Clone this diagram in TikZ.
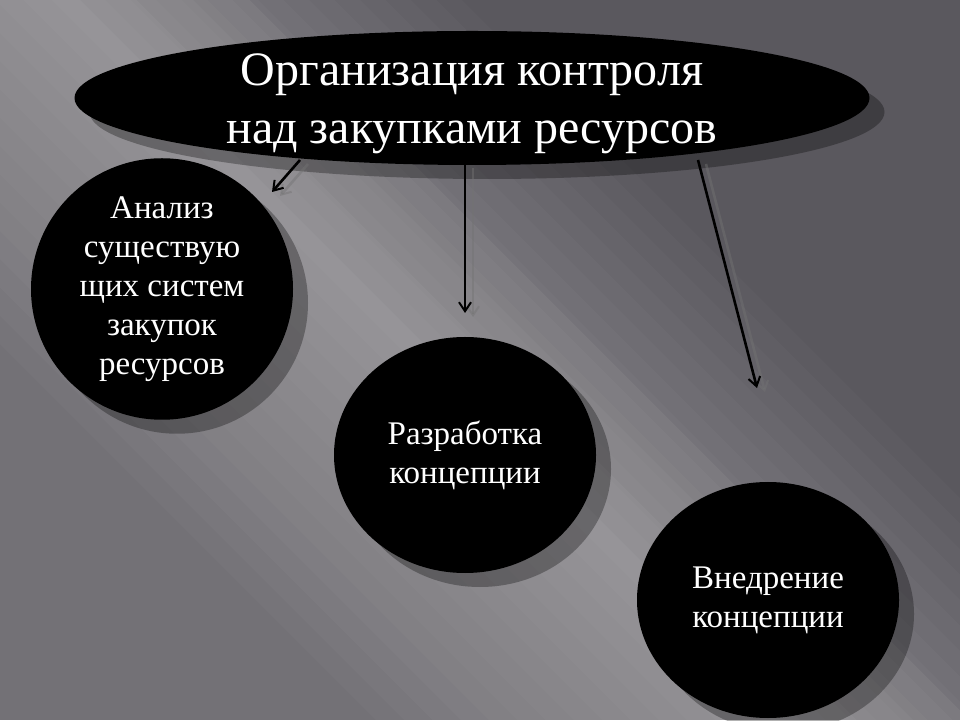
\documentclass[tikz,border=0pt]{standalone}
\usepackage{fontspec}
\setmainfont{Liberation Serif}
\usetikzlibrary{arrows.meta, shapes.geometric, shadows, positioning}

\definecolor{bgdark}{RGB}{90,88,94}

\begin{document}
\begin{tikzpicture}
    [
        x=1pt, y=1pt,
        bubble/.style = {
            ellipse, fill=black, text=white, inner sep=0pt, align=center,
            drop shadow={shadow xshift=15pt, shadow yshift=-14pt, fill=black, opacity=0.3}
            },
        stage/.style = {
            bubble, minimum width=262pt, minimum height=236pt,
            font=\fontsize{33}{39}\selectfont
            },
        heading/.style = {
            text=white, align=center, inner sep=0pt,
            font=\fontsize{48}{58}\selectfont
            },
        link/.style = {
            -{Straight Barb[length=9pt, width=12pt, line width=2pt]}, line width=2.6pt, black
            },
        link shadow/.style = {
            link, draw=black!55, opacity=0.45,
            transform canvas={xshift=8pt, yshift=-4pt}
            },
        glow/.style = {
            fill=white, opacity=0.025
            },
        haze/.style = {
            fill=white, opacity=0.045
            },
    ]
    \useasboundingbox (0,0) rectangle (960,720);
    % background
    \begin{scope}
        \clip (0,0) rectangle (960,720);
        \fill[bgdark] (0,0) rectangle (960,720);
        \begin{scope}[shift={(350,450)}, rotate=45]
            \foreach \e in {0,40,80,120}
                \fill[haze] (-3000,-1400) rectangle (\e,1400);
            \foreach \w in {20,40,...,300}
                \fill[glow] (-\w,-1400) rectangle (0.9*\w,1400);
        \end{scope}
    \end{scope}

    \node[bubble, minimum width=795pt, minimum height=134pt] (control) at (472,622) {};
    \node[heading] (control text) at ([yshift=-6pt]control.center)
          {Организация контроля\\над закупками ресурсов};
    \node[stage] (analysis) at (162,431) {Анализ\\существую\\щих систем\\закупок\\ресурсов};
    \node[stage] (design) at (465,265) {Разработка\\концепции};
    \node[stage] (rollout) at (768,120) {Внедрение\\концепции};

    \coordinate (s1) at (300,560);
    \coordinate (e1) at (272,528);
    \coordinate (s2) at (465,556);
    \coordinate (e2) at (465,407);
    \coordinate (s3) at (698,560);
    \coordinate (e3) at (757,332);
    \foreach \s/\e in {s1/e1, s2/e2, s3/e3} {
        \draw[link shadow] (\s) -- (\e);
        \draw[link] (\s) -- (\e);
    }
\end{tikzpicture}
\end{document}
